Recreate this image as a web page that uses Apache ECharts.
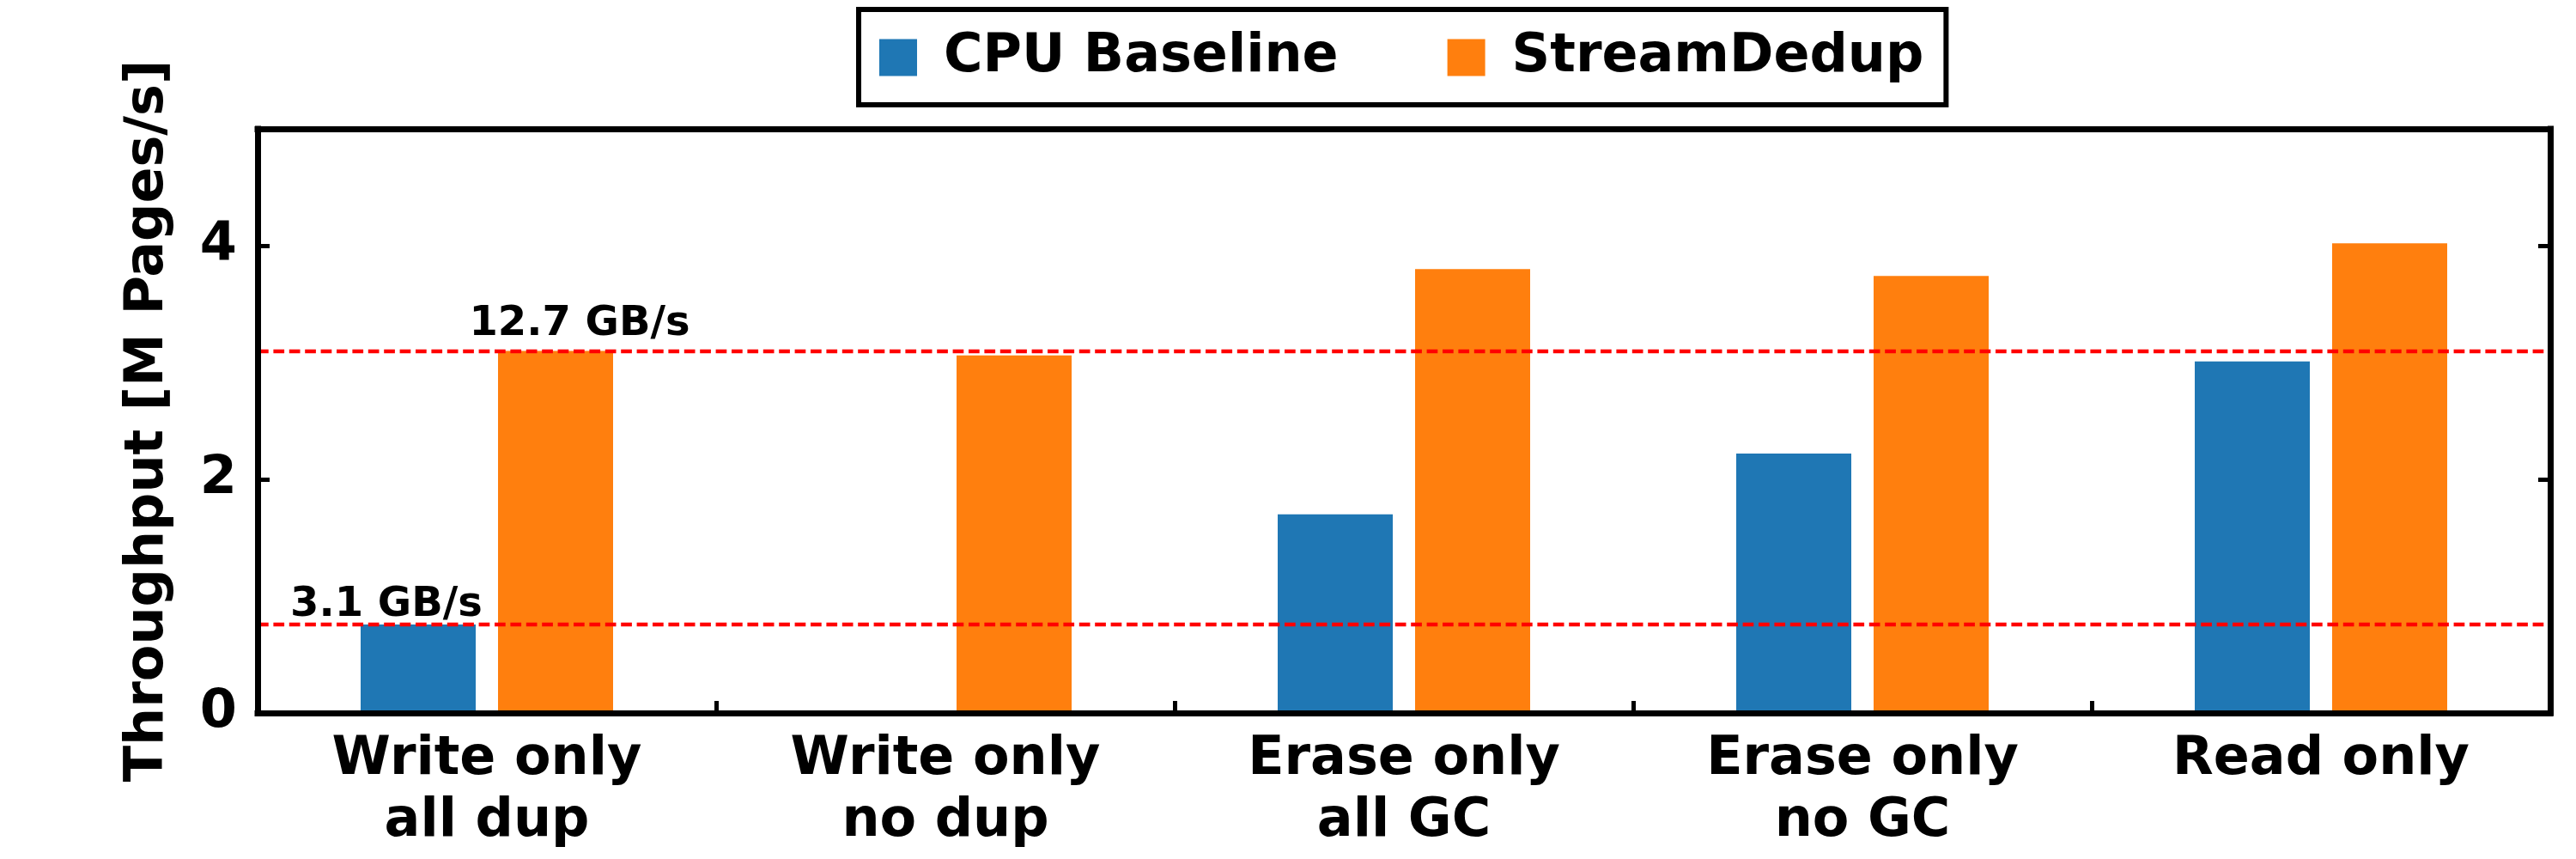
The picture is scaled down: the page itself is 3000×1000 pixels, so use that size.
<!DOCTYPE html>
<html>
<head>
<meta charset="utf-8">
<script src="https://cdn.jsdelivr.net/npm/echarts@6/dist/echarts.min.js"></script>
<style>html,body{margin:0;padding:0;background:#fff}#c{width:3000px;height:1000px}</style>
</head>
<body>
<div id="c"></div>
<script>
const categories = ['Write only\nall dup', 'Write only\nno dup', 'Erase only\nall GC', 'Erase only\nno GC', 'Read only'];
const cpuBaseline = [0.757, null, 1.70, 2.22, 3.01];
const streamDedup = [3.10, 3.06, 3.80, 3.74, 4.02];
const refLines = [0.757, 3.10];
const refLabels = ['3.1 GB/s', '12.7 GB/s'];
const yTicks = [0, 2, 4];

const FONT = 'DejaVu Sans';
const chart = echarts.init(document.getElementById('c'), null, {renderer: 'canvas'});

const axisLineStyle = {color: '#000', width: 7, cap: 'square'};

chart.setOption({
  animation: false,
  backgroundColor: '#fff',
  textStyle: {fontFamily: FONT, fontWeight: 'bold', color: '#000'},
  legend: {
    left: 1000, top: 11,
    orient: 'horizontal',
    padding: [25, 26, 24, 24],
    itemWidth: 44, itemHeight: 43,
    itemGap: 127,
    borderColor: '#000', borderWidth: 6,
    icon: 'rect',
    textStyle: {fontFamily: FONT, fontWeight: 'bold', fontSize: 62, color: '#000', padding: [0, 0, 0, 26], lineHeight: 62},
    data: ['CPU Baseline', 'StreamDedup']
  },
  grid: {left: 300, right: 30, top: 150, bottom: 170, containLabel: false},
  xAxis: [{
    type: 'category', data: categories, position: 'bottom', z: 5,
    axisLine: {onZero: false, lineStyle: axisLineStyle},
    axisTick: {show: true, inside: true, length: 14, lineStyle: {color: '#000', width: 5}},
    axisLabel: {fontFamily: FONT, fontWeight: 'bold', fontSize: 62, color: '#000', lineHeight: 72, margin: 19, interval: 0},
    splitLine: {show: false}
  }, {
    type: 'category', data: categories, position: 'top', z: 5,
    axisLine: {onZero: false, lineStyle: axisLineStyle},
    axisTick: {show: false}, axisLabel: {show: false}, splitLine: {show: false}
  }],
  yAxis: [{
    type: 'value', min: 0, max: 5, interval: 2, position: 'left', z: 5,
    name: 'Throughput [M Pages/s]', nameLocation: 'middle', nameGap: 96,
    nameTextStyle: {fontFamily: FONT, fontWeight: 'bold', fontSize: 62, color: '#000'},
    axisLine: {show: true, onZero: false, lineStyle: axisLineStyle},
    axisTick: {show: true, inside: true, length: 14, lineStyle: {color: '#000', width: 5}},
    axisLabel: {fontFamily: FONT, fontWeight: 'bold', fontSize: 62, color: '#000', margin: 24, showMaxLabel: false,
      formatter: v => yTicks.includes(v) ? String(v) : ''},
    splitLine: {show: false}
  }, {
    type: 'value', min: 0, max: 5, interval: 2, position: 'right', z: 5,
    axisLine: {show: true, onZero: false, lineStyle: axisLineStyle},
    axisTick: {show: true, inside: true, length: 14, lineStyle: {color: '#000', width: 5}},
    axisLabel: {show: false}, splitLine: {show: false}
  }],
  series: [{
    name: 'CPU Baseline', type: 'bar', data: cpuBaseline,
    barWidth: 134, barGap: '19.4%',
    itemStyle: {color: '#1f77b4'},
    markPoint: {
      symbol: 'circle', symbolSize: 0,
      label: {show: true, position: 'inside', fontFamily: FONT, fontWeight: 'bold', fontSize: 48, color: '#000'},
      data: [
        {coord: [categories[0], refLines[0]], value: refLabels[0], label: {formatter: refLabels[0], offset: [-37, -23]}},
        {coord: [categories[0], refLines[1]], value: refLabels[1], label: {formatter: refLabels[1], offset: [188, -31]}}
      ]
    },
    markLine: {
      silent: true, symbol: ['none', 'none'], z: 4,
      label: {show: false},
      lineStyle: {color: '#ff0000', type: [12.7, 5.7], width: 4.3, opacity: 1},
      data: refLines.map(v => ({yAxis: v}))
    }
  }, {
    name: 'StreamDedup', type: 'bar', data: streamDedup,
    barWidth: 134, barGap: '19.4%',
    itemStyle: {color: '#ff7f0e'}
  }]
});
</script>
</body>
</html>
